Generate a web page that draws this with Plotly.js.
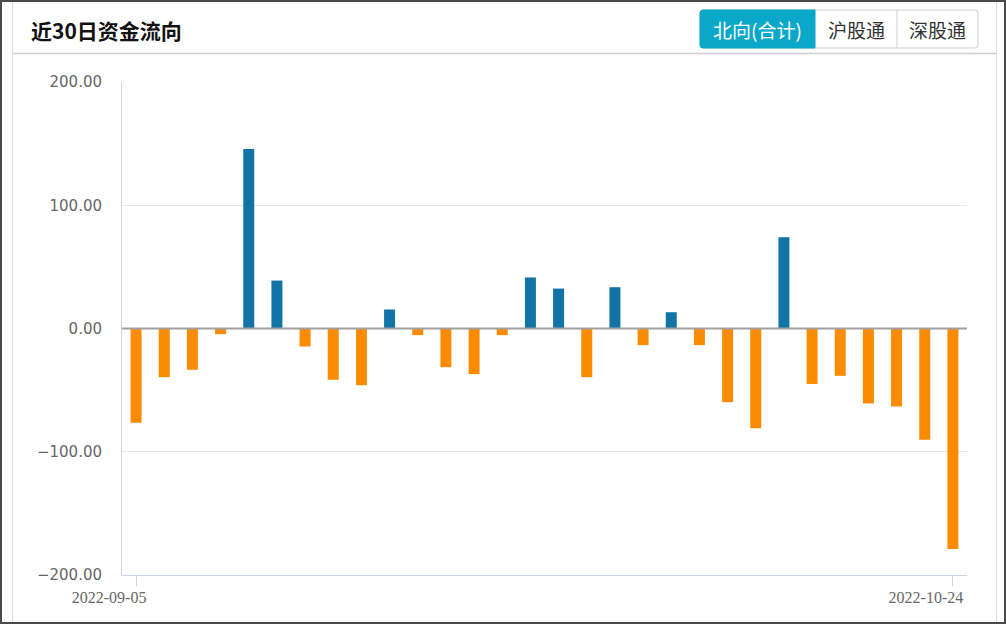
<!DOCTYPE html>
<html>
<head>
<meta charset="utf-8">
<script src="https://cdn.plot.ly/plotly-3.0.1.min.js"></script>
<style>
  html, body { margin: 0; padding: 0; background: #fff; }
  #chart { width: 1006px; height: 624px; }
</style>
</head>
<body>
<div id="chart"></div>
<script>
// ---- data ----
const tradeDates = [
  '2022-09-05','2022-09-06','2022-09-07','2022-09-08','2022-09-09',
  '2022-09-13','2022-09-14','2022-09-15','2022-09-16',
  '2022-09-19','2022-09-20','2022-09-21','2022-09-22','2022-09-23',
  '2022-09-26','2022-09-27','2022-09-28','2022-09-29','2022-09-30',
  '2022-10-10','2022-10-11','2022-10-12','2022-10-13','2022-10-14',
  '2022-10-17','2022-10-18','2022-10-19','2022-10-20','2022-10-21',
  '2022-10-24'
];
const netFlow = [
  -76.5, -39.5, -33.5, -4.6, 145.7,
  38.9, -14.6, -41.6, -46.0,
  15.4, -5.4, -31.4, -37.0, -5.4,
  41.4, 32.4, -39.5, 33.5, -13.5,
  13.2, -13.5, -59.8, -81.0, 74.0,
  -45.0, -38.4, -60.8, -63.3, -90.3,
  -179.0
];
const shownTicks = ['2022-09-05', '2022-10-24'];
const yTicks = [-200, -100, 0, 100, 200];
const titleText = '近30日资金流向';
const tabLabels = ['北向(合计)', '沪股通', '深股通'];

// ---- geometry helpers (pixel -> paper) ----
const L = 122, R = 39, T = 82, B = 49, FW = 1006, FH = 624;
const PW = FW - L - R, PH = FH - T - B;
const px = v => (v - L) / PW;
const py = v => (FH - B - v) / PH;

const POS = '#1273a6', NEG = '#fb8b00';
const barColors = netFlow.map(v => v >= 0 ? POS : NEG);

const trace = {
  type: 'bar',
  x: tradeDates,
  y: netFlow,
  width: 0.39,
  marker: { color: barColors, line: { width: 0 } },
  hoverinfo: 'x+y'
};

// tab buttons geometry
const tabEdges = [700, 815, 897, 978];
const tabTop = 10, tabBot = 48;

function pathPaper(kind, x0, y0, x1, y1, r) {
  const rx = r / PW, ry = r / PH;
  const X0 = px(x0), X1 = px(x1), Y0 = py(y0), Y1 = py(y1);
  if (kind === 'all') {
    return `M ${X0 + rx} ${Y0} L ${X1 - rx} ${Y0} Q ${X1} ${Y0} ${X1} ${Y0 - ry} L ${X1} ${Y1 + ry} Q ${X1} ${Y1} ${X1 - rx} ${Y1} L ${X0 + rx} ${Y1} Q ${X0} ${Y1} ${X0} ${Y1 + ry} L ${X0} ${Y0 - ry} Q ${X0} ${Y0} ${X0 + rx} ${Y0} Z`;
  }
  return `M ${X0 + rx} ${Y0} L ${X1} ${Y0} L ${X1} ${Y1} L ${X0 + rx} ${Y1} Q ${X0} ${Y1} ${X0} ${Y1 + ry} L ${X0} ${Y0 - ry} Q ${X0} ${Y0} ${X0 + rx} ${Y0} Z`;
}

const shapes = [
  { type: 'rect', xref: 'paper', yref: 'paper', x0: px(1), x1: px(1005), y0: py(1), y1: py(623),
    line: { color: '#4a4a4a', width: 2 }, fillcolor: 'rgba(0,0,0,0)', layer: 'above' },
  { type: 'line', xref: 'paper', yref: 'paper', x0: px(12.5), x1: px(12.5), y0: py(2), y1: py(622),
    line: { color: '#dcdcdc', width: 1 } },
  { type: 'line', xref: 'paper', yref: 'paper', x0: px(996.5), x1: px(996.5), y0: py(2), y1: py(622),
    line: { color: '#dcdcdc', width: 1 } },
  { type: 'line', xref: 'paper', yref: 'paper', x0: px(12.5), x1: px(996.5), y0: py(53.5), y1: py(53.5),
    line: { color: '#cfcfcf', width: 1.5 } },
  { type: 'path', xref: 'paper', yref: 'paper', path: pathPaper('all', tabEdges[0], tabTop, tabEdges[3], tabBot, 3),
    line: { color: '#cfcfcf', width: 1 }, fillcolor: '#ffffff' },
  { type: 'path', xref: 'paper', yref: 'paper', path: pathPaper('left', tabEdges[0], tabTop, tabEdges[1], tabBot, 3),
    line: { color: '#0aa8c8', width: 1 }, fillcolor: '#0aa8c8' },
  { type: 'line', xref: 'paper', yref: 'paper', x0: px(tabEdges[2]), x1: px(tabEdges[2]), y0: py(tabTop), y1: py(tabBot),
    line: { color: '#cfcfcf', width: 1 } },
  { type: 'line', xref: 'paper', yref: 'y', x0: 0, x1: 1, y0: 0, y1: 0,
    line: { color: '#a0a0a0', width: 2 }, layer: 'above' }
];

const annotations = [
  { xref: 'paper', yref: 'paper', x: px(29), y: py(30), xanchor: 'left', yanchor: 'middle',
    text: '<b>' + titleText + '</b>', showarrow: false,
    font: { family: 'Noto Sans CJK SC, sans-serif', size: 21, color: '#111111' } }
];
tabLabels.forEach((t, i) => {
  annotations.push({
    xref: 'paper', yref: 'paper',
    x: px((tabEdges[i] + tabEdges[i + 1]) / 2), y: py((tabTop + tabBot) / 2 + 1),
    xanchor: 'center', yanchor: 'middle', text: t, showarrow: false,
    font: { family: 'Noto Sans CJK SC, sans-serif', size: 19, color: i === 0 ? '#ffffff' : '#333333' }
  });
});

const layout = {
  width: FW, height: FH,
  margin: { l: L, r: R, t: T, b: B, pad: 0 },
  paper_bgcolor: '#ffffff', plot_bgcolor: '#ffffff',
  showlegend: false,
  xaxis: {
    type: 'category',
    range: [-0.5, 29.5],
    showgrid: false,
    showline: true, linecolor: '#ccd6eb', linewidth: 1,
    zeroline: false,
    tickmode: 'array', tickvals: shownTicks, ticktext: shownTicks,
    ticks: 'outside', ticklen: 10, tickcolor: '#ccd6eb', tickwidth: 1,
    ticklabelshift: -27, ticklabelstandoff: -2,
    tickfont: { family: 'Liberation Serif, serif', size: 16, color: '#666666' },
    fixedrange: true
  },
  yaxis: {
    range: [-200, 200],
    tickmode: 'array', tickvals: yTicks,
    tickformat: '.2f',
    showgrid: true, gridcolor: '#e6e6e6', gridwidth: 1,
    showline: true, linecolor: '#ccd6eb', linewidth: 1,
    zeroline: false,
    ticks: '', ticklabelstandoff: 16,
    tickfont: { family: 'DejaVu Sans, Verdana, sans-serif', size: 15, color: '#666666' },
    fixedrange: true
  },
  shapes: shapes,
  annotations: annotations
};

Plotly.newPlot('chart', [trace], layout, { displayModeBar: false, staticPlot: true });
</script>
</body>
</html>
